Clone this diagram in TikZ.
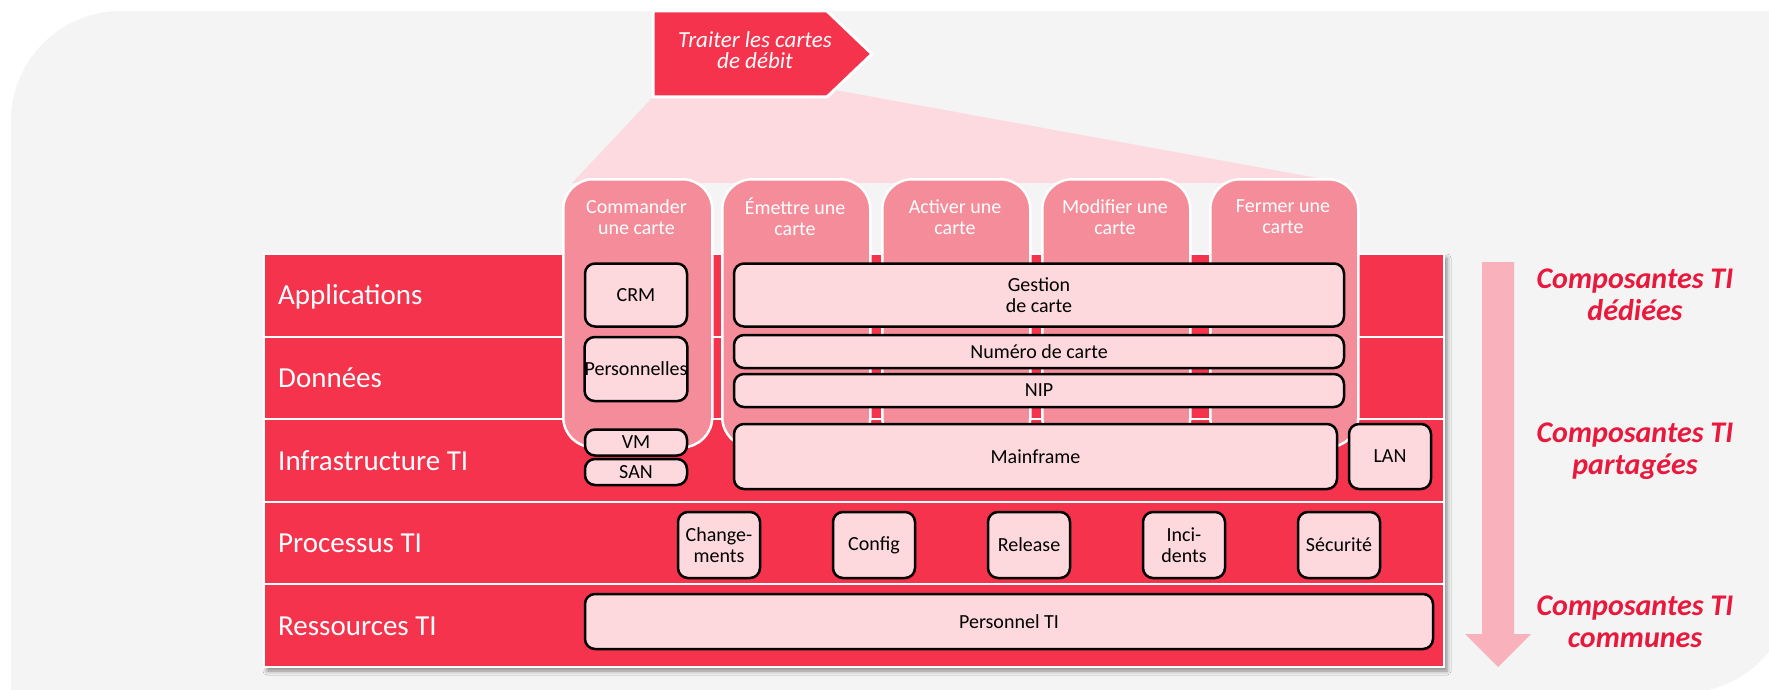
\documentclass[tikz,border=0pt]{standalone}
\usepackage{fontspec}
\setmainfont{Carlito}
\usetikzlibrary{positioning,shadows.blur}

\definecolor{tired}{HTML}{F5334D}
\definecolor{colpink}{HTML}{F58C99}
\definecolor{boxpink}{HTML}{FDD9DE}
\definecolor{fanpink}{HTML}{FCDADF}
\definecolor{arrowpink}{HTML}{F9B2BC}
\definecolor{sidered}{HTML}{E8193C}
\definecolor{bggray}{HTML}{F4F4F4}

\begin{document}
\begin{tikzpicture}[x=1pt, y=-1pt,
	layer/.style = { rectangle, fill=tired, draw=white, line width=2pt,
	minimum width=1180pt, minimum height=82.6pt, inner sep=0pt, anchor=north west },
	layername/.style = { text=white, inner sep=0pt, text height=19pt, text depth=0pt,
	font=\fontsize{29}{33}\selectfont },
	column/.style = { rectangle, rounded corners=30pt, fill=colpink, draw=white,
	line width=2.5pt, minimum height=268pt, inner sep=0pt, anchor=north west },
	coltitle/.style = { text=white, align=center, inner sep=0pt,
	font=\fontsize{20}{21}\selectfont },
	box/.style = { rectangle, rounded corners=10pt, fill=boxpink, draw=black,
	line width=2.5pt, inner sep=0pt, align=center,
	font=\fontsize{20}{21}\selectfont },
	side/.style = { text=sidered, align=center, inner sep=0pt, text depth=0pt,
	font=\fontsize{30}{32}\selectfont\bfseries\itshape } ]

  \useasboundingbox (0,0) rectangle (1769,690);
  \clip (0,0) rectangle (1769,690);
  \fill [bggray] (11,693) -- (11,121) arc [start angle=180, end angle=90, radius=110pt]
	-- (1793,11) -- (1793,583) arc [start angle=0, end angle=-90, radius=110pt] -- cycle;

  \fill [tired, blur shadow={shadow xshift=4pt, shadow yshift=-5pt,
	shadow blur radius=4pt, shadow opacity=45}] (263,253) rectangle (1443,666);
  \foreach \nm/\txt [count=\i from 0] in {app/Applications, don/Données,
	infra/Infrastructure TI, proc/Processus TI, res/Ressources TI} {
    \node [name=\nm, layer] at (263, 253+82.6*\i) {};
    \node [name=\nm-l, layername, right=15pt of \nm.west] {\txt};
  }

  \fill [fanpink] (653,97) -- (835,90) -- (1345,183) -- (572,183) -- cycle;
  \filldraw [fill=tired, draw=white, line width=3pt]
	(653,11) -- (827,11) -- (872,54) -- (827,97) -- (653,97) -- cycle;
  \node [name=task, text=white, align=center, inner sep=0pt,
	font=\fontsize{23}{21.5}\selectfont\itshape] at (755,50) {Traiter les cartes\\de débit};

  \foreach \nm/\x/\w/\txt in {c1/562/149/{Commander\\une carte},
	c2/721/148/{Émettre une\\carte}, c3/881/148/{Activer une\\carte},
	c4/1041/148/{Modifier une\\carte}, c5/1209/148/{Fermer une\\carte}} {
    \node [name=\nm, column, minimum width=\w pt] at (\x,178) {};
    \node [name=\nm-t, coltitle] at (\x+\w/2,217) {\txt};
  }

  \node [name=crm, box, minimum width=102pt, minimum height=63pt] at (636,295) {CRM};
  \node [name=perso, box, minimum width=102pt, minimum height=64pt,
	below=8pt of crm] {Personnelles};
  \node [name=vm, box, minimum width=102pt, minimum height=26pt] at (636,442.5) {VM};
  \node [name=san, box, minimum width=102pt, minimum height=26pt,
	below=1pt of vm] {SAN};

  \node [name=gestion, box, minimum width=610pt, minimum height=63pt]
	at (1039,295) {Gestion\\de carte};
  \node [name=numero, box, minimum width=610pt, minimum height=33pt,
	below=6pt of gestion] {Numéro de carte};
  \node [name=nip, box, minimum width=610pt, minimum height=33pt,
	below=3.5pt of numero] {NIP};
  \node [name=mainframe, box, minimum width=603pt, minimum height=65pt]
	at (1035.5,456.5) {Mainframe};
  \node [name=lan, box, minimum width=82pt, minimum height=65pt,
	right=9.5pt of mainframe] {LAN};

  \foreach \nm/\txt [count=\i from 0] in {chg/{Change-\\ments}, cfg/Config,
	rel/Release, inc/{Inci-\\dents}, sec/Sécurité}
    \node [name=\nm, box, minimum width=82pt, minimum height=66pt]
	at (719+155*\i, 545) {\txt};
  \node [name=staff, box, minimum width=848pt, minimum height=55pt]
	at (1009,621.5) {Personnel TI};

  \fill [arrowpink] (1482,262) -- (1514,262) -- (1514,634) -- (1531,634)
	-- (1498,667) -- (1465,634) -- (1482,634) -- cycle;
  \node [name=dedie, side] at (1635,295) {Composantes TI\\dédiées};
  \node [name=partage, side] at (1635,449) {Composantes TI\\partagées};
  \node [name=commun, side] at (1635,622) {Composantes TI\\communes};
\end{tikzpicture}
\end{document}
